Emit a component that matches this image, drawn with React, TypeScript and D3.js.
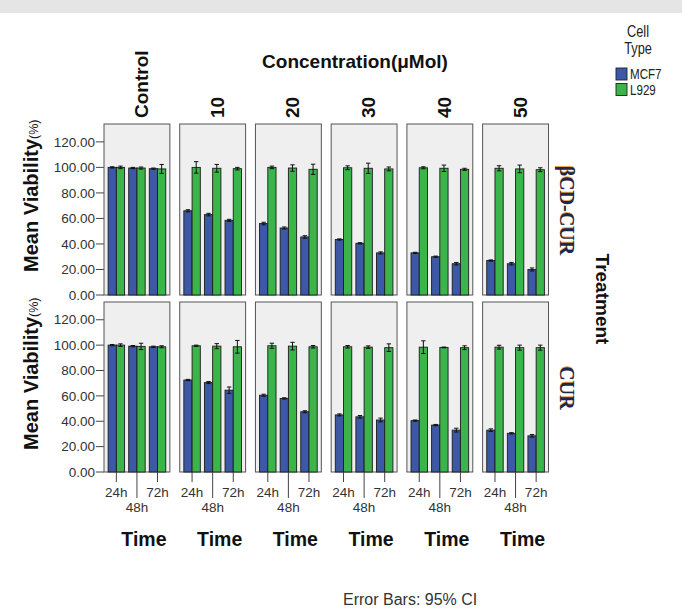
import React from "react";
import * as d3 from "d3";

// chart data
const concentrations = ["Control", "10", "20", "30", "40", "50"];
const times = ["24h", "48h", "72h"];
const cellTypes = ["MCF7", "L929"];
const treatments = ["βCD-CUR", "CUR"];
const yTicks = [0, 20, 40, 60, 80, 100, 120];

// [concentration][time]
const bcdMcf7 = [[100, 99.5, 99], [66, 63, 58.5], [56, 52.5, 45.5], [43.5, 40.5, 33], [33, 30, 24.5], [27, 24.5, 20]];
const bcdMcf7Err = [[0.5, 0.5, 0.5], [0.8, 1, 0.8], [1, 0.8, 1], [0.5, 0.5, 0.8], [0.5, 0.5, 1], [0.5, 1, 1.2]];
const bcdL929 = [[100, 99.5, 98.8], [100, 99.3, 99], [100, 99.5, 98.5], [99.7, 99.3, 98.8], [99.7, 99.3, 98.5], [99.3, 98.8, 98.2]];
const bcdL929Err = [[1, 0.8, 3.5], [4.5, 3, 1], [1, 2.5, 4], [1.5, 4, 1.5], [0.8, 2.5, 0.8], [2, 3, 1.5]];

const curMcf7 = [[100, 99.2, 98.7], [72.5, 70.5, 64.5], [60.5, 58, 47.5], [45, 43.5, 41], [40.5, 37, 33], [33, 30.5, 28.5]];
const curMcf7Err = [[0.5, 0.5, 0.5], [0.5, 0.8, 2.5], [0.8, 0.5, 0.8], [0.8, 1, 1.5], [0.5, 0.5, 1.5], [1, 0.5, 1]];
const curL929 = [[100, 99, 98.7], [99.5, 99.2, 98.7], [99.5, 99.2, 98.7], [98.7, 98.4, 98], [98.4, 98.2, 98], [98.4, 98, 98]];
const curL929Err = [[1, 2.5, 0.8], [0.5, 2, 5], [2, 3, 1], [1, 1, 3], [5, 0.3, 1.5], [1.5, 2, 2]];

const rowValues = [
  [bcdMcf7, bcdL929],
  [curMcf7, curL929],
];
const rowErrors = [
  [bcdMcf7Err, bcdL929Err],
  [curMcf7Err, curL929Err],
];

const colors = ["#3e58a8", "#3bb44a"];
const W = 682, H = 608;
const rows = [
  { top: 124, bottom: 295 },
  { top: 302, bottom: 472 },
];
const sans = "Arial, 'Liberation Sans', Helvetica, sans-serif";

export default function App() {
  const x = d3.scaleBand().domain(concentrations).range([104, 548.5]).paddingInner(0.13);
  const xt = d3.scaleBand().domain(times).range([0, x.bandwidth()]).paddingInner(0.2).paddingOuter(0.2);
  const xc = d3.scaleBand().domain(cellTypes).range([0, xt.bandwidth()]);

  return (
    <svg width={W} height={H} style={{ position: "absolute", left: 0, top: 0, background: "#fff" }} fontFamily={sans}>
      <rect x={0} y={0} width={W} height={13} fill="#e5e5e6" />

      {/* header */}
      <text x={355} y={68} textAnchor="middle" fontSize={19} fontWeight="bold" fill="#111">Concentration(μMol)</text>
      {concentrations.map(c => (
        <text key={c} transform={`translate(${x(c)! + x.bandwidth() / 2 + 11},118) rotate(-90)`}
          fontSize={19} fontWeight="bold" fill="#111">{c}</text>
      ))}

      {rows.map((r, ri) => {
        const y = d3.scaleLinear().domain([0, 134]).range([r.bottom, r.top]);
        return (
          <g key={ri}>
            {/* y axis */}
            {yTicks.map(t => (
              <g key={t}>
                <line x1={96} x2={104} y1={y(t)} y2={y(t)} stroke="#444" />
                <text x={95} y={y(t)} dy="0.35em" textAnchor="end" fontSize={13.5} fill="#333">{t.toFixed(2)}</text>
              </g>
            ))}
            <text transform={`translate(38,${ri === 0 ? 272 : 450}) rotate(-90)`} fontSize={20} fontWeight="bold" fill="#111">
              Mean Viability<tspan fontSize={12.5} fontWeight="normal">(%)</tspan>
            </text>

            {concentrations.map((c, ci) => (
              <g key={c} transform={`translate(${x(c)},0)`}>
                <rect x={0} y={r.top} width={x.bandwidth()} height={r.bottom - r.top} fill="#efefef" stroke="#555" />
                {times.map((t, ti) => (
                  <g key={t} transform={`translate(${xt(t)},0)`}>
                    {cellTypes.map((ct, k) => {
                      const v = rowValues[ri][k][ci][ti];
                      const e = rowErrors[ri][k][ci][ti];
                      const bx = xc(ct)!;
                      const cx = bx + xc.bandwidth() / 2;
                      return (
                        <g key={ct}>
                          <rect x={bx} y={y(v)} width={xc.bandwidth()} height={y(0) - y(v)} fill={colors[k]} stroke="#1c1c1c" strokeWidth={0.9} />
                          <line x1={cx} x2={cx} y1={y(v - e)} y2={y(v + e)} stroke="#111" />
                          <line x1={cx - 2.2} x2={cx + 2.2} y1={y(v + e)} y2={y(v + e)} stroke="#111" />
                          <line x1={cx - 2.2} x2={cx + 2.2} y1={y(v - e)} y2={y(v - e)} stroke="#111" />
                        </g>
                      );
                    })}
                  </g>
                ))}
                {ri === 1 && times.map((t, ti) => {
                  const tx = xt(t)! + xt.bandwidth() / 2;
                  const longTick = ti === 1;
                  return (
                    <g key={t}>
                      <line x1={tx} x2={tx} y1={r.bottom} y2={r.bottom + (longTick ? 26 : 10)} stroke="#444" />
                      <text x={tx} y={longTick ? 512 : 497} textAnchor="middle" fontSize={13.5} fill="#333">{t}</text>
                    </g>
                  );
                })}
                {ri === 1 && (
                  <text x={x.bandwidth() / 2 + 7} y={546} textAnchor="middle" fontSize={19.5} fontWeight="bold" fill="#111">Time</text>
                )}
              </g>
            ))}

            {/* treatment row label */}
            <text transform={`translate(560,${(r.top + r.bottom) / 2 + 1}) rotate(90)`} textAnchor="middle"
              fontFamily="'Liberation Serif', 'Times New Roman', serif" fontSize={20} fontWeight="bold"
              fill="#1d2847" style={{ textShadow: "-1px 0 0 rgba(230,140,30,0.8)" }}>{treatments[ri]}</text>
          </g>
        );
      })}

      <text transform="translate(596,299) rotate(90)" textAnchor="middle" fontSize={19} fontWeight="bold" fill="#111">Treatment</text>

      {/* legend */}
      <text transform="translate(638,37) scale(0.8,1)" textAnchor="middle" fontSize={16} fill="#222">Cell</text>
      <text transform="translate(638,54) scale(0.8,1)" textAnchor="middle" fontSize={16} fill="#222">Type</text>
      {cellTypes.map((ct, k) => (
        <g key={ct} transform={`translate(616,${68 + k * 15.5})`}>
          <rect x={0} y={0} width={11} height={12} fill={colors[k]} stroke="#222" strokeWidth={0.9} />
          <text transform="translate(14,11) scale(0.8,1)" fontSize={14.5} fill="#222">{ct}</text>
        </g>
      ))}

      <text x={343} y={605} fontSize={16} fill="#333">Error Bars: 95% CI</text>
    </svg>
  );
}
